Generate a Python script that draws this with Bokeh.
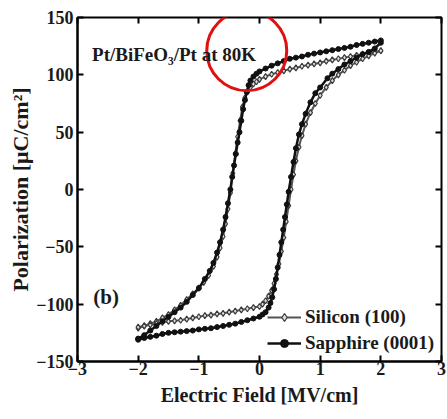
from bokeh.plotting import figure
from bokeh.models import LinearAxis, Label, Legend, LegendItem, ColumnDataSource
from bokeh.embed import file_html
from bokeh.resources import INLINE

# ---------------- data ----------------
# Sapphire (0001): descending branch (+2 -> -2)
sap_up_E = [2.0, 1.9, 1.8, 1.7, 1.6, 1.5, 1.4, 1.3, 1.2, 1.1, 1.0, 0.9, 0.8, 0.7, 0.6, 0.5, 0.4, 0.3,
            0.2, 0.1, 0.0, -0.05, -0.1, -0.15, -0.18, -0.21, -0.24, -0.27, -0.30, -0.33, -0.36, -0.39,
            -0.42, -0.45, -0.48, -0.52, -0.56, -0.60, -0.65, -0.70, -0.76, -0.82, -0.9, -1.0, -1.1,
            -1.2, -1.3, -1.4, -1.5, -1.6, -1.7, -1.8, -1.9, -2.0]
sap_up_P = [130, 129, 128, 127, 126, 124.5, 123.5, 122.5, 121.5, 120.5, 119.5, 118.5, 117.5, 116,
            115, 114, 112, 110, 108, 105.5, 103, 101, 98.5, 95, 91, 85, 78, 70, 60, 50, 41, 31, 21,
            11, 0, -12, -24, -35, -46, -55, -64, -71, -78, -86, -92, -98, -103, -107, -111, -115,
            -119, -123, -127, -130]
# Sapphire (0001): ascending branch (-2 -> +2)
sap_dn_E = [-2.0, -1.9, -1.8, -1.7, -1.6, -1.5, -1.4, -1.3, -1.2, -1.1, -1.0, -0.9, -0.8, -0.7, -0.6,
            -0.5, -0.4, -0.3, -0.2, -0.1, 0.0, 0.05, 0.1, 0.15, 0.18, 0.21, 0.24, 0.27, 0.30, 0.33,
            0.36, 0.39, 0.42, 0.45, 0.48, 0.52, 0.56, 0.60, 0.65, 0.70, 0.76, 0.84, 0.92, 1.0, 1.12,
            1.2, 1.3, 1.4, 1.5, 1.6, 1.7, 1.8, 1.9, 2.0]
sap_dn_P = [-131, -129.5, -128.5, -127.5, -126, -125, -124.5, -124, -123.5, -123, -122, -121.5,
            -121, -120, -119, -118, -117, -115.5, -114, -112.5, -111, -109, -107, -103, -99, -94,
            -87, -78, -68, -57, -46, -35, -24, -13, -2, 11, 24, 36, 48, 57, 66, 76, 84, 89, 97, 101,
            105, 109, 112, 115, 118, 120, 123, 128]

# Silicon (100): descending branch (+2 -> -2)
si_up_E = [2.0, 1.9, 1.8, 1.7, 1.6, 1.5, 1.4, 1.3, 1.2, 1.1, 1.0, 0.9, 0.8, 0.7, 0.6, 0.5, 0.4, 0.3,
           0.2, 0.1, 0.0, -0.05, -0.1, -0.15, -0.2, -0.24, -0.28, -0.32, -0.36, -0.40, -0.44, -0.48,
           -0.52, -0.56, -0.60, -0.65, -0.70, -0.76, -0.84, -0.92, -1.0, -1.1, -1.2, -1.3, -1.4,
           -1.5, -1.6, -1.7, -1.8, -1.9, -2.0]
si_up_P = [121, 120, 119, 118, 117, 116, 115, 114, 113, 112, 110.5, 109.5, 108.5, 107.5, 106, 105,
           103.5, 102, 100.5, 98.5, 96, 94, 92, 89, 85, 80, 72, 60, 46, 31, 14, -3, -17, -30, -41,
           -51, -59, -67, -75, -81, -86, -91, -96, -101, -105, -109, -112, -115, -117, -119, -121]
# Silicon (100): ascending branch (-2 -> +2)
si_dn_E = [-2.0, -1.9, -1.8, -1.7, -1.6, -1.5, -1.4, -1.3, -1.2, -1.1, -1.0, -0.9, -0.8, -0.7, -0.6,
           -0.5, -0.4, -0.3, -0.2, -0.1, 0.0, 0.05, 0.1, 0.15, 0.2, 0.24, 0.28, 0.32, 0.36, 0.40,
           0.44, 0.48, 0.52, 0.56, 0.60, 0.65, 0.70, 0.76, 0.84, 0.92, 1.0, 1.1, 1.2, 1.3, 1.4, 1.5,
           1.6, 1.7, 1.8, 1.9, 2.0]
si_dn_P = [-120, -119, -118, -117, -116, -115, -114.5, -114, -113, -112, -111, -110, -109.5, -108.5,
           -108, -107, -106, -105, -104, -103, -102, -100, -97, -93, -88, -82, -74, -65, -54, -42,
           -28, -14, 0, 13, 25, 37, 47, 57, 67, 75, 82, 89, 95, 100, 104, 108, 111, 114, 116.5,
           119, 121]

series_names = ["Silicon (100)", "Sapphire (0001)"]
x_ticks = [-3, -2, -1, 0, 1, 2, 3]
y_ticks = [-150, -100, -50, 0, 50, 100, 150]

title_text = "Pt/BiFeO\u2083/Pt at 80K"
panel_text = "(b)"
# annotation anchors (data units)
title_pos = (-2.76, 118)
panel_pos = (-2.74, -94)
highlight_pos = (-0.21, 121)

FONT = "Liberation Serif"

p = figure(width=447, height=419, x_range=(-3, 3), y_range=(-150, 150),
           output_backend="svg", toolbar_location=None,
           min_border_left=77, min_border_right=6, min_border_top=17, min_border_bottom=58,
           background_fill_color="white", border_fill_color="white")
p.grid.visible = False
p.outline_line_color = "black"
p.outline_line_width = 2

for ax in (p.xaxis[0], p.yaxis[0]):
    ax.axis_line_width = 2
    ax.major_tick_in = 6
    ax.major_tick_out = 0
    ax.minor_tick_in = 3
    ax.minor_tick_out = 0
    ax.major_tick_line_width = 2
    ax.minor_tick_line_width = 1.5
    ax.major_label_text_font = FONT
    ax.major_label_text_font_style = "bold"
    ax.major_label_text_font_size = "18px"
    ax.major_label_text_color = "#1a1a1a"
    ax.axis_label_text_font = FONT
    ax.axis_label_text_font_style = "bold"
    ax.axis_label_text_color = "#1a1a1a"

p.xaxis.axis_label_text_font_size = "20px"
p.yaxis.axis_label_text_font_size = "22px"
p.xaxis.ticker = x_ticks
p.yaxis.ticker = y_ticks
p.xaxis[0].ticker.num_minor_ticks = 2
p.yaxis[0].ticker.num_minor_ticks = 2
p.xaxis.axis_label = "Electric Field [MV/cm]"
p.yaxis.axis_label = "Polarization [\u03bcC/cm\u00b2]"
p.xaxis.major_label_standoff = 0
p.yaxis.major_label_standoff = 4
p.xaxis.axis_label_standoff = 6
p.yaxis.axis_label_standoff = 0

# mirrored ticks on top and right (no labels)
top = LinearAxis(ticker=x_ticks, major_label_text_color=None, axis_line_width=0,
                 major_tick_in=6, major_tick_out=0, minor_tick_in=3, minor_tick_out=0,
                 major_tick_line_width=2, minor_tick_line_width=1.5, major_label_standoff=0)
top.ticker.num_minor_ticks = 2
right = LinearAxis(ticker=y_ticks, major_label_text_color=None, axis_line_width=0,
                   major_tick_in=6, major_tick_out=0, minor_tick_in=3, minor_tick_out=0,
                   major_tick_line_width=2, minor_tick_line_width=1.5, major_label_standoff=0)
right.ticker.num_minor_ticks = 2
p.add_layout(top, "above")
p.add_layout(right, "right")

# Silicon
si_items = []
for E, P in ((si_up_E, si_up_P), (si_dn_E, si_dn_P)):
    src = ColumnDataSource(dict(E=E, P=P))
    l = p.line("E", "P", source=src, line_color="#555555", line_width=2)
    s = p.scatter("E", "P", source=src, marker="diamond", size=6, fill_color="#dddddd",
                  line_color="#3a3a3a", line_width=1.2)
    si_items.append((l, s))

# Sapphire
sap_items = []
for E, P in ((sap_up_E, sap_up_P), (sap_dn_E, sap_dn_P)):
    src = ColumnDataSource(dict(E=E, P=P))
    l = p.line("E", "P", source=src, line_color="#111111", line_width=2.5)
    s = p.scatter("E", "P", source=src, marker="circle", size=5, fill_color="#111111",
                  line_color="#111111")
    sap_items.append((l, s))

legend = Legend(items=[
    LegendItem(label=series_names[0], renderers=list(si_items[0])),
    LegendItem(label=series_names[1], renderers=list(sap_items[0])),
], location="bottom_right")
legend.background_fill_alpha = 0
legend.border_line_alpha = 0
legend.label_text_font = FONT
legend.label_text_font_style = "bold"
legend.label_text_font_size = "19px"
legend.label_text_color = "#1a1a1a"
legend.glyph_width = 34
legend.glyph_height = 20
legend.label_height = 20
legend.spacing = 4
legend.padding = 2
legend.margin = 5
legend.label_standoff = 4
p.add_layout(legend)

p.add_layout(Label(x=title_pos[0], y=title_pos[1], text=title_text, text_font=FONT,
                   text_font_style="bold", text_font_size="19px", text_baseline="middle",
                   text_color="#1a1a1a"))
p.add_layout(Label(x=panel_pos[0], y=panel_pos[1], text=panel_text, text_font=FONT,
                   text_font_style="bold", text_font_size="21px", text_baseline="middle",
                   text_color="#1a1a1a"))

# red highlight circle
hsrc = ColumnDataSource(dict(E=[highlight_pos[0]], P=[highlight_pos[1]]))
p.scatter("E", "P", source=hsrc, marker="circle", size=80, fill_alpha=0,
          line_color="#e01010", line_width=3)

open("out.html", "w").write(file_html(p, INLINE))
